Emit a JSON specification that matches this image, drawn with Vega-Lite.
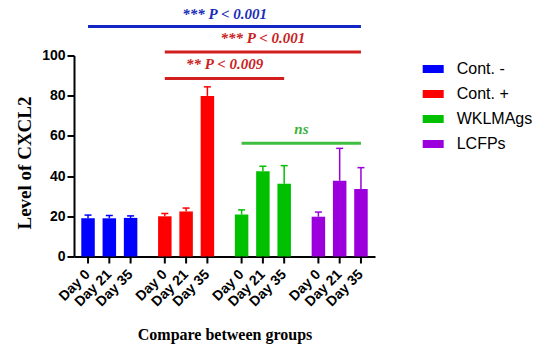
{
  "$schema": "https://vega.github.io/schema/vega-lite/v6.json",
  "width": 301,
  "height": 201,
  "autosize": {"type": "none"},
  "padding": {"left": 74, "top": 55.5, "right": 175, "bottom": 101.5},
  "background": "white",
  "config": {"view": {"stroke": null}},
  "datasets": {
    "bars": [
      {"group": "Cont. -", "day": "Day 0", "mean": 19.0, "upper": 20.6},
      {"group": "Cont. -", "day": "Day 21", "mean": 19.0, "upper": 20.4},
      {"group": "Cont. -", "day": "Day 35", "mean": 19.2, "upper": 20.2},
      {"group": "Cont. +", "day": "Day 0", "mean": 20.0, "upper": 21.4},
      {"group": "Cont. +", "day": "Day 21", "mean": 22.4, "upper": 24.1},
      {"group": "Cont. +", "day": "Day 35", "mean": 79.9, "upper": 84.4},
      {"group": "WKLMAgs", "day": "Day 0", "mean": 20.9, "upper": 23.2},
      {"group": "WKLMAgs", "day": "Day 21", "mean": 42.4, "upper": 44.9},
      {"group": "WKLMAgs", "day": "Day 35", "mean": 36.2, "upper": 45.2},
      {"group": "LCFPs", "day": "Day 0", "mean": 19.8, "upper": 22.1},
      {"group": "LCFPs", "day": "Day 21", "mean": 37.7, "upper": 53.8},
      {"group": "LCFPs", "day": "Day 35", "mean": 33.6, "upper": 44.2}
    ],
    "sig": [
      {"id": "a", "group": "Cont. -", "day": "Day 0", "level": 114.4, "col": "#1326c4"},
      {"id": "a", "group": "LCFPs", "day": "Day 35", "level": 114.4, "col": "#1326c4"},
      {"id": "b", "group": "Cont. +", "day": "Day 0", "level": 101.7, "col": "#d11f1f"},
      {"id": "b", "group": "LCFPs", "day": "Day 35", "level": 101.7, "col": "#d11f1f"},
      {"id": "c", "group": "Cont. +", "day": "Day 0", "level": 88.6, "col": "#d11f1f"},
      {"id": "c", "group": "WKLMAgs", "day": "Day 35", "level": 88.6, "col": "#d11f1f"},
      {"id": "d", "group": "WKLMAgs", "day": "Day 0", "level": 56.3, "col": "#3fbf3f"},
      {"id": "d", "group": "LCFPs", "day": "Day 35", "level": 56.3, "col": "#3fbf3f"}
    ],
    "sigText": [
      {"label": "*** P < 0.001", "group": "WKLMAgs", "day": "Day 0", "level": 120.6, "col": "#1b2db8", "shift": "left"},
      {"label": "*** P < 0.001", "group": "WKLMAgs", "day": "Day 21", "level": 108.7, "col": "#c92222", "shift": "none"},
      {"label": "** P < 0.009", "group": "WKLMAgs", "day": "Day 0", "level": 95.9, "col": "#c92222", "shift": "left"},
      {"label": "ns", "group": "LCFPs", "day": "Day 0", "level": 63.3, "col": "#3bb33b", "shift": "left"}
    ]
  },
  "layer": [
    {
      "data": {"name": "bars"},
      "mark": {"type": "bar"},
      "encoding": {
        "x": {
          "field": "group", "type": "nominal",
          "sort": ["Cont. -", "Cont. +", "WKLMAgs", "LCFPs"],
          "scale": {"paddingInner": 0.27, "paddingOuter": 0.095},
          "axis": {
            "labels": false, "ticks": false, "domain": true,
            "domainColor": "black", "domainWidth": 2,
            "title": "Compare between groups",
            "titleFont": "Liberation Serif", "titleFontWeight": "bold",
            "titleFontSize": 16, "titleColor": "black", "titlePadding": 70
          }
        },
        "xOffset": {
          "field": "day", "type": "nominal",
          "sort": ["Day 0", "Day 21", "Day 35"],
          "scale": {"paddingInner": 0.366, "paddingOuter": 0}
        },
        "y": {
          "field": "mean", "type": "quantitative",
          "scale": {"domain": [0, 100], "nice": false},
          "axis": {
            "values": [0, 20, 40, 60, 80, 100], "grid": false,
            "domainColor": "black", "domainWidth": 2,
            "tickColor": "black", "tickWidth": 2, "tickSize": 7,
            "labelFont": "Liberation Sans", "labelFontWeight": "bold",
            "labelFontSize": 14, "labelColor": "black", "labelPadding": 2,
            "title": "Level of CXCL2",
            "titleFont": "Liberation Serif", "titleFontWeight": "bold",
            "titleFontSize": 19, "titleColor": "black", "titlePadding": 7,
            "titleY": 107
          }
        },
        "color": {
          "field": "group", "type": "nominal",
          "scale": {
            "domain": ["Cont. -", "Cont. +", "WKLMAgs", "LCFPs"],
            "range": ["#0000ff", "#ff0000", "#00c000", "#9b00dc"]
          },
          "legend": {
            "orient": "none", "legendX": 348.7, "legendY": 3,
            "title": null, "padding": 0,
            "symbolType": "M-1,-0.38H1V0.38H-1Z", "symbolSize": 441,
            "symbolStrokeWidth": 0, "symbolOpacity": 1,
            "labelFont": "Liberation Sans", "labelFontSize": 16,
            "labelColor": "black", "labelOffset": 13, "rowPadding": 6
          }
        }
      }
    },
    {
      "data": {"name": "bars"},
      "mark": {"type": "rule", "strokeWidth": 1.5},
      "encoding": {
        "x": {"field": "group", "type": "nominal", "sort": ["Cont. -", "Cont. +", "WKLMAgs", "LCFPs"]},
        "xOffset": {"field": "day", "type": "nominal", "sort": ["Day 0", "Day 21", "Day 35"]},
        "y": {"field": "mean", "type": "quantitative"},
        "y2": {"field": "upper"},
        "color": {"field": "group", "type": "nominal"}
      }
    },
    {
      "data": {"name": "bars"},
      "mark": {"type": "tick", "orient": "horizontal", "size": 7, "thickness": 1.5, "opacity": 1},
      "encoding": {
        "x": {"field": "group", "type": "nominal", "sort": ["Cont. -", "Cont. +", "WKLMAgs", "LCFPs"]},
        "xOffset": {"field": "day", "type": "nominal", "sort": ["Day 0", "Day 21", "Day 35"]},
        "y": {"field": "upper", "type": "quantitative"},
        "color": {"field": "group", "type": "nominal"}
      }
    },
    {
      "data": {"name": "bars"},
      "mark": {"type": "tick", "orient": "vertical", "size": 7, "thickness": 2, "color": "black", "opacity": 1, "yOffset": 3.5},
      "encoding": {
        "x": {"field": "group", "type": "nominal", "sort": ["Cont. -", "Cont. +", "WKLMAgs", "LCFPs"]},
        "xOffset": {"field": "day", "type": "nominal", "sort": ["Day 0", "Day 21", "Day 35"]},
        "y": {"datum": 0}
      }
    },
    {
      "data": {"name": "bars"},
      "mark": {"type": "text", "angle": -45, "align": "right", "baseline": "middle",
               "font": "Liberation Sans", "fontWeight": "bold", "fontSize": 14,
               "color": "black", "xOffset": 6, "yOffset": 16},
      "encoding": {
        "x": {"field": "group", "type": "nominal", "sort": ["Cont. -", "Cont. +", "WKLMAgs", "LCFPs"]},
        "xOffset": {"field": "day", "type": "nominal", "sort": ["Day 0", "Day 21", "Day 35"]},
        "y": {"datum": 0},
        "text": {"field": "day"}
      }
    },
    {
      "data": {"name": "sig"},
      "mark": {"type": "line", "strokeWidth": 3},
      "encoding": {
        "x": {"field": "group", "type": "nominal", "sort": ["Cont. -", "Cont. +", "WKLMAgs", "LCFPs"]},
        "xOffset": {"field": "day", "type": "nominal", "sort": ["Day 0", "Day 21", "Day 35"]},
        "y": {"field": "level", "type": "quantitative"},
        "detail": {"field": "id"},
        "stroke": {"field": "col", "type": "nominal", "scale": null}
      }
    },
    {
      "data": {"name": "sigText"},
      "transform": [{"filter": "datum.shift == 'left'"}],
      "mark": {"type": "text", "align": "center", "baseline": "middle",
               "font": "Liberation Serif", "fontWeight": "bold", "fontStyle": "italic",
               "fontSize": 15, "dx": -17},
      "encoding": {
        "x": {"field": "group", "type": "nominal", "sort": ["Cont. -", "Cont. +", "WKLMAgs", "LCFPs"]},
        "xOffset": {"field": "day", "type": "nominal", "sort": ["Day 0", "Day 21", "Day 35"]},
        "y": {"field": "level", "type": "quantitative"},
        "text": {"field": "label"},
        "fill": {"field": "col", "type": "nominal", "scale": null}
      }
    },
    {
      "data": {"name": "sigText"},
      "transform": [{"filter": "datum.shift == 'none'"}],
      "mark": {"type": "text", "align": "center", "baseline": "middle",
               "font": "Liberation Serif", "fontWeight": "bold", "fontStyle": "italic",
               "fontSize": 15},
      "encoding": {
        "x": {"field": "group", "type": "nominal", "sort": ["Cont. -", "Cont. +", "WKLMAgs", "LCFPs"]},
        "xOffset": {"field": "day", "type": "nominal", "sort": ["Day 0", "Day 21", "Day 35"]},
        "y": {"field": "level", "type": "quantitative"},
        "text": {"field": "label"},
        "fill": {"field": "col", "type": "nominal", "scale": null}
      }
    }
  ]
}
